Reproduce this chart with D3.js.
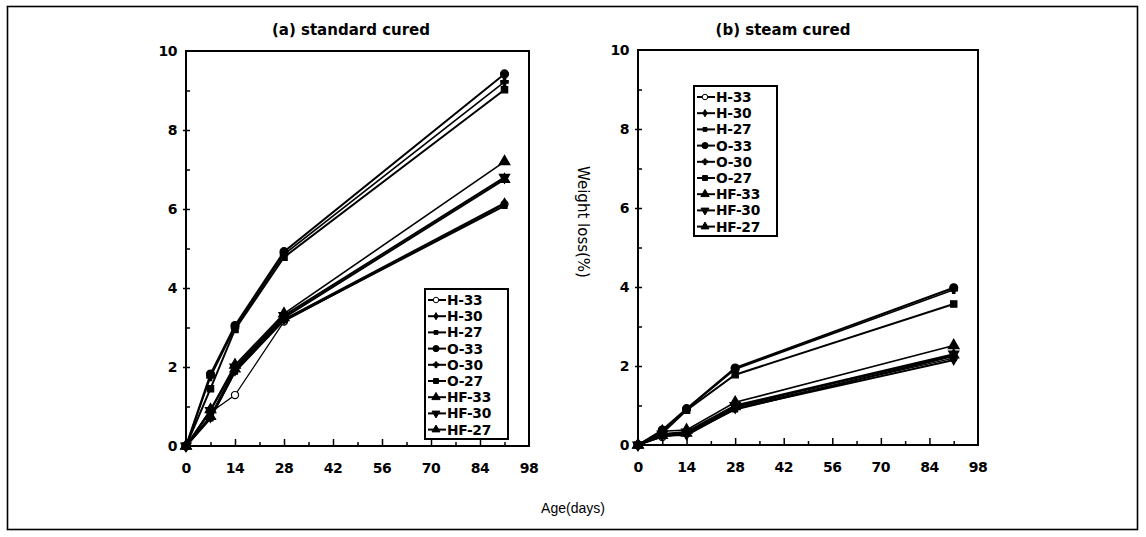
<!DOCTYPE html>
<html>
<head>
<meta charset="utf-8">
<script src="https://cdn.jsdelivr.net/npm/d3@7"></script>
<style>
  body { margin: 0; background: #fff; }
  text { font-family: "DejaVu Sans", sans-serif; fill: #000; }
</style>
</head>
<body>
<script>
let width = 1146
let height = 537

// ages (days) where weight loss was measured
let days = [0, 7, 14, 28, 91]
let seriesNames = ["H-33", "H-30", "H-27", "O-33", "O-30", "O-27", "HF-33", "HF-30", "HF-27"]
let xTicks = [0, 14, 28, 42, 56, 70, 84, 98]
let yTicks = [0, 2, 4, 6, 8, 10]

// (a) standard cured
let stdH33 = [0, 0.85, 1.29, 3.15, 6.12]
let stdH30 = [0, 0.72, 1.9, 3.2, 6.15]
let stdH27 = [0, 0.7, 1.88, 3.18, 6.08]
let stdO33 = [0, 1.82, 3.05, 4.92, 9.42]
let stdO30 = [0, 1.75, 3.0, 4.85, 9.22]
let stdO27 = [0, 1.45, 2.95, 4.78, 9.02]
let stdHF33 = [0, 0.92, 2.05, 3.35, 7.2]
let stdHF30 = [0, 0.9, 2.0, 3.3, 6.8]
let stdHF27 = [0, 0.75, 1.95, 3.25, 6.75]

// (b) steam cured
let stmH33 = [0, 0.2, 0.3, 0.95, 2.2]
let stmH30 = [0, 0.25, 0.25, 0.92, 2.15]
let stmH27 = [0, 0.22, 0.28, 0.9, 2.25]
let stmO33 = [0, 0.38, 0.92, 1.95, 3.98]
let stmO30 = [0, 0.35, 0.9, 1.92, 3.93]
let stmO27 = [0, 0.3, 0.88, 1.78, 3.57]
let stmHF33 = [0, 0.35, 0.38, 1.08, 2.52]
let stmHF30 = [0, 0.28, 0.33, 1.0, 2.3]
let stmHF27 = [0, 0.24, 0.3, 0.97, 2.28]

let stdValues = [stdH33, stdH30, stdH27, stdO33, stdO30, stdO27, stdHF33, stdHF30, stdHF27]
let stmValues = [stmH33, stmH30, stmH27, stmO33, stmO30, stmO27, stmHF33, stmHF30, stmHF27]

// marker style per series
let markers = [
  {type: d3.symbolCircle, size: 40, fill: "#fff", width: 1.2},
  {type: d3.symbolDiamond, size: 25, fill: "#000", width: 2},
  {type: d3.symbolSquare, size: 25, fill: "#000", width: 2},
  {type: d3.symbolCircle, size: 50, fill: "#000", width: 2},
  {type: d3.symbolCross, size: 30, fill: "#000", width: 1.6},
  {type: d3.symbolSquare, size: 40, fill: "#000", width: 2},
  {type: d3.symbolTriangle, size: 50, fill: "#000", width: 1.6},
  {type: d3.symbolTriangle, size: 45, fill: "#000", width: 2, rot: 180},
  {type: d3.symbolTriangle, size: 45, fill: "#000", width: 2}
]

let svg = d3.select("body")
            .append("svg")
            .attr("width", width)
            .attr("height", height)

// outer frame
svg.append("rect")
    .attr("x", 7.5).attr("y", 6.5)
    .attr("width", 1130).attr("height", 523)
    .attr("fill", "none")
    .attr("stroke", "#000")
    .attr("stroke-width", 1.6)

let drawPanel = (cfg) => {
    let xScale = d3.scaleLinear().domain([0, 98]).range([cfg.left, cfg.right])
    let yScale = d3.scaleLinear().domain([0, 10]).range([cfg.bottom, cfg.top])
    let g = svg.append("g")

    // minor / major ticks pointing inward
    let xAxis = d3.axisTop(xScale)
                  .tickValues(d3.range(7, 98, 7))
                  .tickSize(0)
                  .tickFormat("")
    g.append("g")
        .attr("transform", "translate(0," + cfg.bottom + ")")
        .call(xAxis)
        .call(a => a.select(".domain").remove())
        .selectAll(".tick line")
        .attr("y2", d => d % 14 == 0 ? -7 : -4)
        .attr("stroke-width", 1.5)

    let yAxis = d3.axisRight(yScale)
                  .tickValues(d3.range(1, 10, 1))
                  .tickSize(4)
                  .tickFormat("")
    g.append("g")
        .attr("transform", "translate(" + cfg.left + ",0)")
        .call(yAxis)
        .call(a => a.select(".domain").remove())
        .selectAll(".tick line")
        .attr("x1", d => d % 2 == 0 ? -3 : 0)
        .attr("stroke-width", 1.5)

    // tick labels
    g.selectAll(".xlab")
        .data(xTicks)
        .enter()
        .append("text")
        .attr("x", d => xScale(d))
        .attr("y", cfg.bottom + 27)
        .attr("text-anchor", "middle")
        .style("font-size", "14px")
        .style("font-weight", "bold")
        .style("letter-spacing", "-0.5px")
        .text(d => d)

    g.selectAll(".ylab")
        .data(yTicks)
        .enter()
        .append("text")
        .attr("x", cfg.left - 9)
        .attr("y", d => yScale(d) + 5)
        .attr("text-anchor", "end")
        .style("font-size", "14px")
        .style("font-weight", "bold")
        .style("letter-spacing", "-0.5px")
        .text(d => d)

    // box
    g.append("rect")
        .attr("x", cfg.left).attr("y", cfg.top)
        .attr("width", cfg.right - cfg.left)
        .attr("height", cfg.bottom - cfg.top)
        .attr("fill", "none")
        .attr("stroke", "#000")
        .attr("stroke-width", 2)

    g.append("text")
        .attr("x", cfg.titleX)
        .attr("y", 35)
        .attr("text-anchor", "middle")
        .style("font-size", "15px")
        .style("font-weight", "bold")
        .text(cfg.title)

    let line = d3.line()
                 .x((d, i) => xScale(days[i]))
                 .y(d => yScale(d))

    cfg.values.forEach((vals, s) => {
        g.append("path")
            .datum(vals)
            .attr("d", line)
            .attr("fill", "none")
            .attr("stroke", "#000")
            .attr("stroke-width", markers[s].width)
        g.selectAll(".m" + s)
            .data(vals)
            .enter()
            .append("path")
            .attr("d", d3.symbol().type(markers[s].type).size(markers[s].size))
            .attr("transform", (d, i) => "translate(" + xScale(days[i]) + "," + yScale(d) + ") rotate(" + (markers[s].rot || 0) + ")")
            .attr("fill", markers[s].fill)
            .attr("stroke", "#000")
            .attr("stroke-width", 1.2)
    })

    // legend
    let lg = g.append("g")
    lg.append("rect")
        .attr("x", cfg.legX).attr("y", cfg.legY)
        .attr("width", 83).attr("height", 150)
        .attr("fill", "#fff")
        .attr("stroke", "#000")
        .attr("stroke-width", 2)
    seriesNames.forEach((name, s) => {
        let cy = cfg.legY + 11 + s * 16.2
        lg.append("line")
            .attr("x1", cfg.legX + 3).attr("x2", cfg.legX + 21)
            .attr("y1", cy).attr("y2", cy)
            .attr("stroke", "#000")
            .attr("stroke-width", 2)
        lg.append("path")
            .attr("d", d3.symbol().type(markers[s].type).size(markers[s].size * 0.6))
            .attr("transform", "translate(" + (cfg.legX + 11) + "," + cy + ") rotate(" + (markers[s].rot || 0) + ")")
            .attr("fill", markers[s].fill)
            .attr("stroke", "#000")
            .attr("stroke-width", 1)
        lg.append("text")
            .attr("x", cfg.legX + 22)
            .attr("y", cy + 5)
            .style("font-size", "13.8px")
            .style("font-weight", "bold")
            .style("letter-spacing", "-0.3px")
            .text(name)
    })
}

drawPanel({left: 186, right: 529, top: 51, bottom: 446, titleX: 351,
           title: "(a) standard cured", values: stdValues, legX: 425, legY: 289})
drawPanel({left: 638, right: 978, top: 50, bottom: 445, titleX: 783,
           title: "(b) steam cured", values: stmValues, legX: 694, legY: 86})

// shared axis titles
svg.append("text")
    .attr("transform", "translate(578,222) rotate(90)")
    .attr("text-anchor", "middle")
    .style("font-size", "15px")
    .text("Weight loss(%)")

svg.append("text")
    .attr("x", 573)
    .attr("y", 513)
    .attr("text-anchor", "middle")
    .style("font-size", "14px")
    .style("font-family", "Liberation Sans, sans-serif")
    .text("Age(days)")
</script>
</body>
</html>
